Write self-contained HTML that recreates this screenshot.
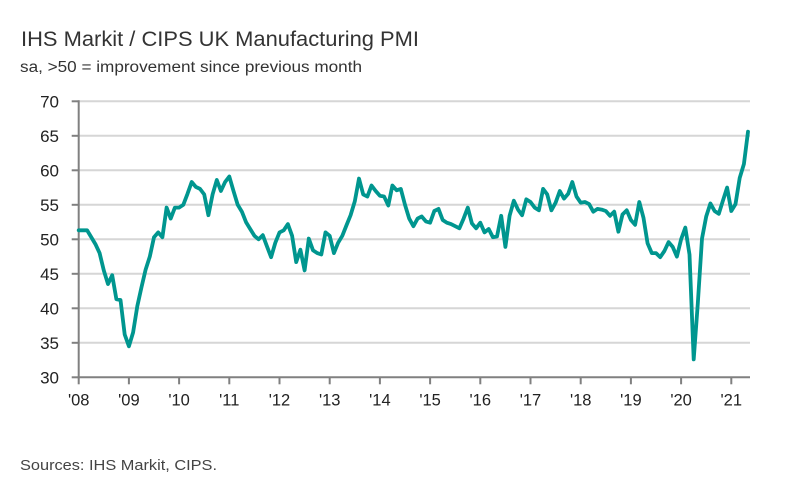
<!DOCTYPE html>
<html><head><meta charset="utf-8"><style>
body{margin:0;background:#fff;width:785px;height:493px;overflow:hidden;font-family:"Liberation Sans",sans-serif}
</style></head><body>
<svg width="785" height="493" xmlns="http://www.w3.org/2000/svg">
<text x="21" y="46" font-size="21.5" fill="#333" textLength="398" lengthAdjust="spacingAndGlyphs">IHS Markit / CIPS UK Manufacturing PMI</text>
<text x="20" y="72" font-size="15.5" fill="#333" textLength="342" lengthAdjust="spacingAndGlyphs">sa, &gt;50 = improvement since previous month</text>
<text x="20" y="470" font-size="15" fill="#444" textLength="197" lengthAdjust="spacingAndGlyphs">Sources: IHS Markit, CIPS.</text>
<g id="grid"></g><g id="axes"></g><g id="series"></g>
</svg>
<script>
const values = [51.3,51.3,51.3,50.3,49.3,48,45.5,43.5,44.8,41.3,41.2,36.2,
34.5,36.5,40.3,43,45.6,47.5,50.3,51,50.3,54.6,53,54.6,
54.6,55,56.6,58.3,57.6,57.3,56.5,53.5,56.5,58.6,57,58.3,
59.1,57,55,54,52.5,51.5,50.5,50,50.6,49,47.4,49.5,
51,51.3,52.2,50.5,46.7,48.5,45.5,50.1,48.4,48,47.8,51,
50.5,48,49.5,50.5,52,53.5,55.5,58.8,56.5,56.2,57.8,57,
56.3,56.2,54.9,57.8,57.1,57.3,55,53,51.9,53,53.3,52.6,
52.4,54.1,54.4,52.8,52.4,52.2,51.9,51.6,53,54.6,52.3,51.6,
52.4,51,51.5,50.3,50.4,53.4,48.9,53.4,55.6,54.3,53.5,55.8,
55.4,54.6,54.2,57.3,56.5,54.2,55.3,57,55.9,56.6,58.3,56.2,
55.3,55.4,55.1,54,54.4,54.3,54.1,53.4,54,51.1,53.6,54.2,
52.8,52.1,55.4,53.1,49.4,48,48,47.4,48.3,49.6,48.9,47.5,
50,51.7,47.8,32.6,40.7,50.1,53.3,55.2,54.1,53.7,55.6,57.5,
54.1,55.1,58.9,60.9,65.6];
const yTicks = [30,35,40,45,50,55,60,65,70];
const xLabels = ["'08","'09","'10","'11","'12","'13","'14","'15","'16","'17","'18","'19","'20","'21"];
const startYear = 2008;

const X0=78.7, PXM=50.2/12, Y0=377.3, PXU=6.9, XEND=750;
const xs = m => X0 + m*PXM;
const ys = v => Y0 - (v-30)*PXU;
const NS="http://www.w3.org/2000/svg";
function mk(tag, attrs, parent){const e=document.createElementNS(NS,tag);for(const k in attrs)e.setAttribute(k,attrs[k]);parent.appendChild(e);return e;}
const grid=document.getElementById('grid'), axes=document.getElementById('axes'), series=document.getElementById('series');

yTicks.forEach(t=>{
  if(t>30){
    const g=mk('line',{x1:X0,x2:XEND,y1:ys(t),y2:ys(t),stroke:'#d6d6d6','stroke-width':2},grid);
    
    
  }
  const tk=mk('line',{x1:X0-7,x2:X0,y1:ys(t),y2:ys(t),stroke:'#808080','stroke-width':2},axes);
  
  
  const lb=mk('text',{x:59,y:ys(t)+6,'text-anchor':'end','font-size':17,fill:'#222'},axes);
  lb.textContent=t;
  
  
});
const ya=mk('line',{x1:X0,x2:X0,y1:ys(70)-1,y2:Y0+1,stroke:'#808080','stroke-width':2},axes);


const xa=mk('line',{x1:X0-1,x2:XEND,y1:Y0,y2:Y0,stroke:'#808080','stroke-width':2},axes);


xLabels.forEach((l,i)=>{
  const x=xs(i*12);
  const tk=mk('line',{x1:x,x2:x,y1:Y0,y2:Y0+7,stroke:'#808080','stroke-width':2},axes);
  
  
  const lb=mk('text',{x:x,y:Y0+28,'text-anchor':'middle','font-size':16.5,fill:'#222'},axes);
  lb.textContent=l;
  
  
});
const d=values.map((v,i)=>(i?'L':'M')+xs(i).toFixed(1)+','+ys(v).toFixed(1)).join(' ');
const p=mk('path',{d:d,fill:'none',stroke:'#00968f','stroke-width':3.8,'stroke-linejoin':'round','stroke-linecap':'round'},series);


</script>
</body></html>
